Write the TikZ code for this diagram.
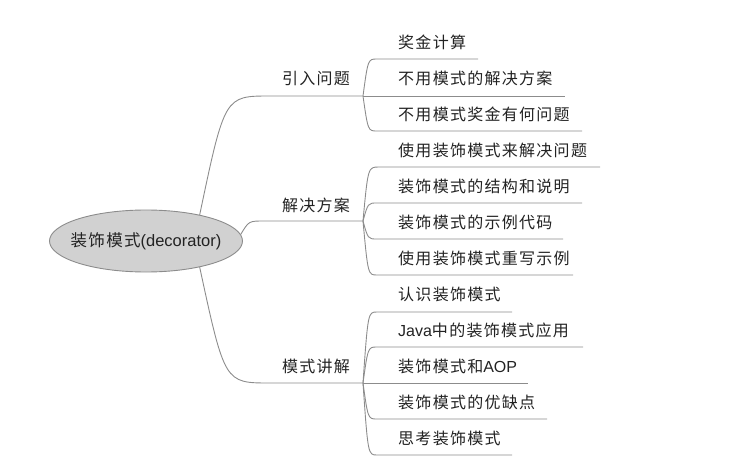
\documentclass[tikz,border=0pt]{standalone}
\usepackage{fontspec}
\setmainfont{Liberation Sans}
\newfontfamily\cjk[LetterSpace=8]{Noto Sans CJK SC}
\usetikzlibrary{shapes.geometric,calc}
\definecolor{ln}{HTML}{8C8C8C}
\definecolor{tx}{HTML}{222222}
\tikzset{
  br/.style={draw=ln, line width=0.9pt},
  leaf/.style={anchor=west, inner sep=0pt, text=tx, font=\fontsize{16}{18}\selectfont},
  par/.style={anchor=center, inner sep=0pt, text=tx, font=\fontsize{16}{18}\selectfont},
}
\begin{document}
\begin{tikzpicture}[x=1pt,y=-1pt]
\useasboundingbox (0,0) rectangle (748,466);
\node[ellipse, draw=ln, fill=black!18, line width=0.9pt, minimum width=193pt, minimum height=62pt, inner xsep=-8pt, inner ysep=0pt, text=tx, font=\fontsize{16.5}{18}\selectfont] (root) at (146,241) {{\cjk 装饰模式}(decorator)};

% parent labels
\node[par] (p1) at (316,78) {\cjk 引入问题};
\node[par] (p2) at (316,205) {\cjk 解决方案};
\node[par] (p3) at (316,366) {\cjk 模式讲解};
\coordinate (p1s) at (270,96); \coordinate (J1) at (363,96);
\coordinate (p2s) at (264,221); \coordinate (J2) at (363,221);
\coordinate (p3s) at (270,383); \coordinate (J3) at (363,383);

\draw[br] (root.26) .. controls ($(root.26|-p1s)+(25,0)$) .. (p1s) -- (J1);
\draw[br] (root.4) .. controls ($(root.4|-p2s)+(8,0)$) .. (p2s) -- (J2);
\draw[br] (root.-26) .. controls ($(root.-26|-p3s)+(25,0)$) .. (p3s) -- (J3);

% group 1
\coordinate (a1s) at (377,59); \coordinate (a1e) at (478,59);
\coordinate (a2e) at (565,96);
\coordinate (a3s) at (377,131); \coordinate (a3e) at (582,131);
\node[leaf] (a1) at (398,42) {\cjk 奖金计算};
\node[leaf] (a2) at (398,78) {\cjk 不用模式的解决方案};
\node[leaf] (a3) at (398,114) {\cjk 不用模式奖金有何问题};
\draw[br] (J1) .. controls ($(J1|-a1s)+(5,0)$) .. (a1s) -- (a1e);
\draw[br] (J1) -- (a2e);
\draw[br] (J1) .. controls ($(J1|-a3s)+(5,0)$) .. (a3s) -- (a3e);

% group 2
\coordinate (b1s) at (379,167); \coordinate (b1e) at (600,167);
\coordinate (b2s) at (377,203); \coordinate (b2e) at (582,203);
\coordinate (b3s) at (377,239); \coordinate (b3e) at (563,239);
\coordinate (b4s) at (377,275); \coordinate (b4e) at (573,275);
\node[leaf] (b1) at (398,150) {\cjk 使用装饰模式来解决问题};
\node[leaf] (b2) at (398,186) {\cjk 装饰模式的结构和说明};
\node[leaf] (b3) at (398,222) {\cjk 装饰模式的示例代码};
\node[leaf] (b4) at (398,258) {\cjk 使用装饰模式重写示例};
\foreach \n in {b1,b2,b3,b4}
  \draw[br] (J2) .. controls ($(J2|-\n s)+(5,0)$) .. (\n s) -- (\n e);

% group 3
\coordinate (c1s) at (377,312); \coordinate (c1e) at (512,312);
\coordinate (c2s) at (377,347); \coordinate (c2e) at (583,347);
\coordinate (c3e) at (528,383);
\coordinate (c4s) at (377,419); \coordinate (c4e) at (547,419);
\coordinate (c5s) at (377,455); \coordinate (c5e) at (512,455);
\node[leaf] (c1) at (398,294) {\cjk 认识装饰模式};
\node[leaf] (c2) at (398,330) {Java{\cjk 中的装饰模式应用}};
\node[leaf] (c3) at (398,366) {{\cjk 装饰模式和}AOP};
\node[leaf] (c4) at (398,402) {\cjk 装饰模式的优缺点};
\node[leaf] (c5) at (398,438) {\cjk 思考装饰模式};
\foreach \n in {c1,c2,c4,c5}
  \draw[br] (J3) .. controls ($(J3|-\n s)+(5,0)$) .. (\n s) -- (\n e);
\draw[br] (J3) -- (c3e);
\end{tikzpicture}
\end{document}
